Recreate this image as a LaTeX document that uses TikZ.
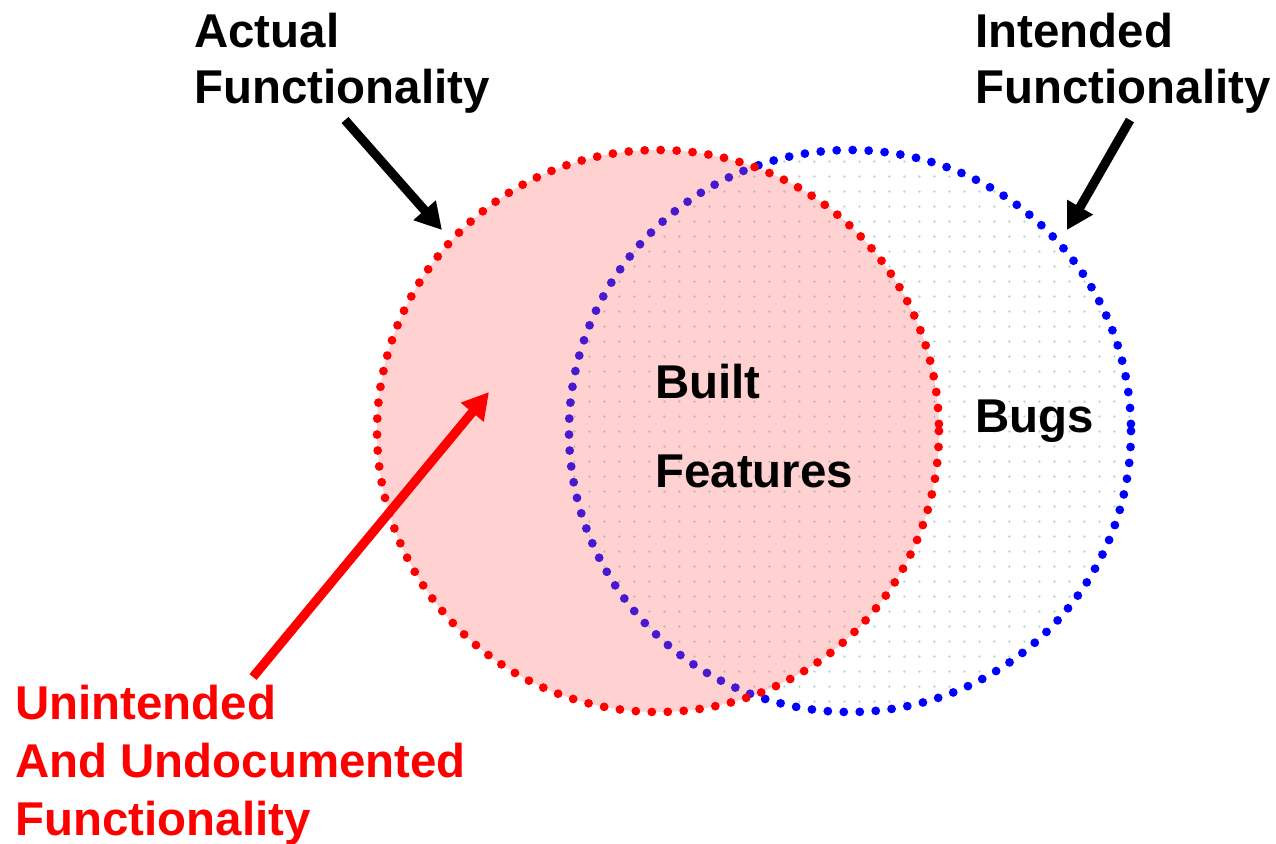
\documentclass[tikz,border=0pt]{standalone}
\usepackage{fontspec}
\setmainfont{Liberation Sans}
\usetikzlibrary{arrows.meta,patterns.meta}

\definecolor{setred}{RGB}{255,0,0}
\definecolor{setblue}{RGB}{0,0,255}
\definecolor{pinkfill}{RGB}{255,90,90}
\definecolor{bugcyan}{RGB}{175,215,225}

\tikzdeclarepattern{
  name=bugdots,
  type=uncolored,
  bounding box={(0pt,0pt) and (8.5pt,8.5pt)},
  tile size={(8.5pt,8.5pt)},
  code={\fill (4.25pt,4.25pt) circle (0.75pt);}
}

\tikzset{
  setline/.style={line width=5pt, line cap=round, dash pattern=on 0pt off 9.1pt},
  label/.style={font=\bfseries\fontsize{27}{31.8}\selectfont, align=left, anchor=base west, inner sep=0pt},
  pointer/.style={line width=5.2pt, -{Triangle[length=15pt,width=16pt]}}
}

\begin{document}
\begin{tikzpicture}[x=0.02cm, y=-0.02cm]
  \useasboundingbox (0,0) rectangle (1276,843);

  % Intended functionality (right set)
  \coordinate (intendedc) at (850,431);
  \fill[pattern={bugdots}, pattern color=bugcyan] (intendedc) circle (281);
  \draw[setline, setblue] (intendedc) circle (281);

  % Actual functionality (left set)
  \coordinate (actualc) at (658,431);
  \fill[pinkfill, fill opacity=0.28] (actualc) circle (281);
  \draw[setline, setred] (actualc) circle (281);

  % Labels (anchored at the baseline of the last line)
  \node[label] (actual) at (194,103) {Actual\\Functionality};
  \node[label] (intended) at (975,103) {Intended\\Functionality};
  \node[label, font=\bfseries\fontsize{27}{50.5}\selectfont] (built) at (655,487) {Built\\Features};
  \node[label] (bugs) at (975,432) {Bugs};
  \node[label, text=setred, font=\bfseries\fontsize{27}{32.9}\selectfont] (unintended) at (15,835)
    {Unintended\\And Undocumented\\Functionality};

  % Pointers
  \coordinate (actualtail) at (345,120);
  \coordinate (actualtip) at (442,230);
  \coordinate (intendedtail) at (1130,120);
  \coordinate (intendedtip) at (1067,230);
  \coordinate (unintendedtail) at (253,677);
  \coordinate (unintendedtip) at (489,392);

  \draw[pointer] (actualtail) -- (actualtip);
  \draw[pointer] (intendedtail) -- (intendedtip);
  \draw[pointer, setred] (unintendedtail) -- (unintendedtip);
\end{tikzpicture}
\end{document}
